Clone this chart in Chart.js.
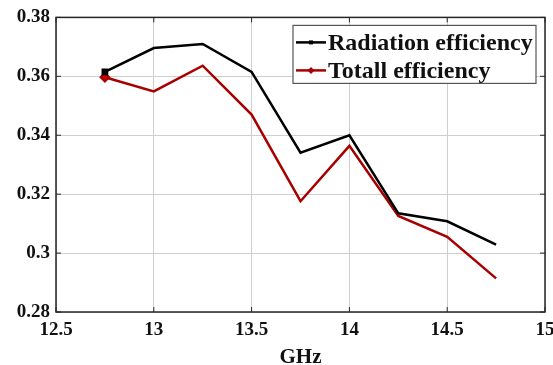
<!DOCTYPE html>
<html>
<head>
<meta charset="utf-8">
<script src="https://cdn.jsdelivr.net/npm/chart.js@4"></script>
<style>
  body { margin: 0; background: #fff; }
</style>
</head>
<body>
<canvas id="chart" width="553" height="365"></canvas>
<script>
const freqs = [12.75, 13, 13.25, 13.5, 13.75, 14, 14.25, 14.5, 14.75];
const radiationEff = [0.3615, 0.3696, 0.3710, 0.3615, 0.3341, 0.3400, 0.3135, 0.3108, 0.3029];
const totalEff = [0.3597, 0.3549, 0.3636, 0.3470, 0.3176, 0.3364, 0.3126, 0.3055, 0.2914];
const xTicks = [12.5, 13, 13.5, 14, 14.5, 15];
const yTicks = [0.28, 0.3, 0.32, 0.34, 0.36, 0.38];

const serif = '"Liberation Serif", "Times New Roman", serif';
const redColor = '#a80000';

// MATLAB style box with inward ticks on all four sides
const boxPlugin = {
    id: 'box',
    afterDraw(chart) {
        const ctx = chart.ctx;
        const a = chart.chartArea;
        const xs = chart.scales.x;
        const ys = chart.scales.y;
        ctx.save();
        ctx.strokeStyle = '#262626';
        ctx.lineWidth = 1.5;
        ctx.strokeRect(a.left, a.top, a.right - a.left, a.bottom - a.top);
        ctx.lineWidth = 1;
        ctx.beginPath();
        xTicks.forEach(v => {
            const px = xs.getPixelForValue(v);
            ctx.moveTo(px, a.bottom); ctx.lineTo(px, a.bottom - 5);
            ctx.moveTo(px, a.top); ctx.lineTo(px, a.top + 5);
        });
        yTicks.forEach(v => {
            const py = ys.getPixelForValue(v);
            ctx.moveTo(a.left, py); ctx.lineTo(a.left + 5, py);
            ctx.moveTo(a.right, py); ctx.lineTo(a.right - 5, py);
        });
        ctx.stroke();
        ctx.restore();
    }
};

// legend drawn inside the axes, top right
const insideLegend = {
    id: 'insideLegend',
    afterDraw(chart) {
        const ctx = chart.ctx;
        const a = chart.chartArea;
        const boxW = 243, boxH = 58;
        const bx = a.right - 9 - boxW;
        const by = a.top + 8;
        ctx.save();
        ctx.fillStyle = '#fff';
        ctx.fillRect(bx, by, boxW, boxH);
        ctx.strokeStyle = '#555';
        ctx.lineWidth = 1.2;
        ctx.strokeRect(bx, by, boxW, boxH);
        ctx.font = 'bold 24px ' + serif;
        ctx.textBaseline = 'middle';
        chart.data.datasets.forEach((ds, i) => {
            const y = by + 17 + i * 28;
            ctx.strokeStyle = ds.borderColor;
            ctx.lineWidth = 2.5;
            ctx.beginPath();
            ctx.moveTo(bx + 3, y);
            ctx.lineTo(bx + 33, y);
            ctx.stroke();
            ctx.fillStyle = ds.borderColor;
            if (ds.pointStyle === 'rect') {
                ctx.fillRect(bx + 16, y - 2, 4, 4);
            } else {
                ctx.beginPath();
                ctx.moveTo(bx + 18, y - 3.5);
                ctx.lineTo(bx + 21.5, y);
                ctx.lineTo(bx + 18, y + 3.5);
                ctx.lineTo(bx + 14.5, y);
                ctx.closePath();
                ctx.fill();
            }
            ctx.fillStyle = '#111';
            ctx.fillText(ds.label, bx + 35, y + 1);
        });
        ctx.restore();
    }
};

const ctx = document.getElementById('chart').getContext('2d');
new Chart(ctx, {
    type: 'line',
    data: {
        datasets: [
            {
                label: 'Radiation efficiency',
                data: freqs.map((f, i) => ({ x: f, y: radiationEff[i] })),
                borderColor: '#000000',
                backgroundColor: '#000000',
                borderWidth: 2.5,
                pointStyle: 'rect',
                pointRadius: c => (c.dataIndex === 0 ? 3 : 0),
                tension: 0
            },
            {
                label: 'Totall efficiency',
                data: freqs.map((f, i) => ({ x: f, y: totalEff[i] })),
                borderColor: redColor,
                backgroundColor: '#d00000',
                borderWidth: 2.5,
                pointStyle: 'rectRot',
                pointRadius: c => (c.dataIndex === 0 ? 4 : 0),
                tension: 0
            }
        ]
    },
    options: {
        responsive: false,
        animation: false,
        devicePixelRatio: 1,
        layout: { padding: { top: 17, right: 8, left: 0, bottom: 0 } },
        plugins: {
            legend: { display: false },
            tooltip: { enabled: false }
        },
        scales: {
            x: {
                type: 'linear',
                min: 12.5,
                max: 15,
                afterBuildTicks: axis => { axis.ticks = xTicks.map(v => ({ value: v })); },
                afterFit: axis => { axis.height = 53; axis.paddingLeft = 0; axis.paddingRight = 0; },
                grid: { color: '#cfcfcf', lineWidth: 1, drawTicks: false },
                border: { display: false },
                ticks: {
                    color: '#111',
                    font: { family: serif, size: 19, weight: 'bold' },
                    padding: 7,
                    maxRotation: 0,
                    callback: v => String(v)
                },
                title: {
                    display: true,
                    text: 'GHz',
                    color: '#111',
                    font: { family: serif, size: 21, weight: 'bold' },
                    padding: { top: 0, bottom: -5 }
                }
            },
            y: {
                min: 0.28,
                max: 0.38,
                afterBuildTicks: axis => { axis.ticks = yTicks.map(v => ({ value: v })); },
                afterFit: axis => { axis.width = 56; },
                grid: { color: '#cfcfcf', lineWidth: 1, drawTicks: false },
                border: { display: false },
                ticks: {
                    color: '#111',
                    font: { family: serif, size: 19, weight: 'bold' },
                    padding: 6,
                    callback: v => String(v)
                }
            }
        }
    },
    plugins: [boxPlugin, insideLegend]
});
</script>
</body>
</html>
